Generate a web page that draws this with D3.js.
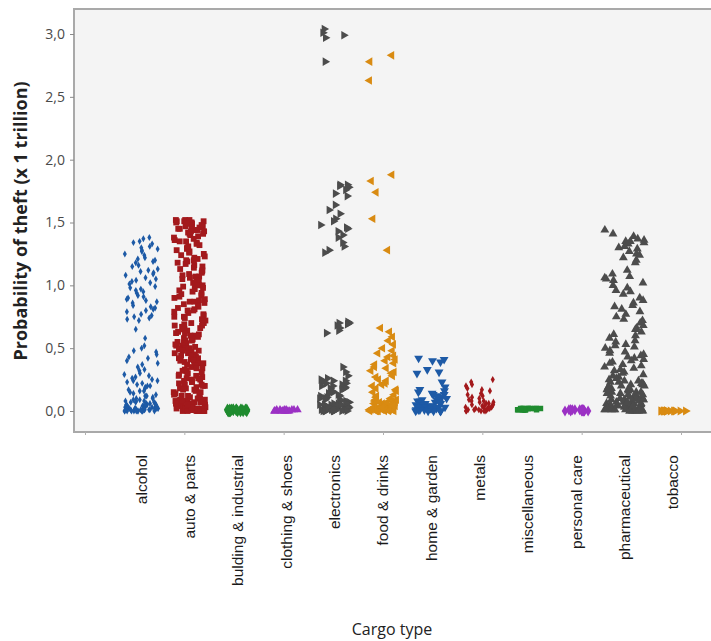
<!DOCTYPE html>
<html><head><meta charset="utf-8">
<script src="https://cdn.jsdelivr.net/npm/d3@7"></script>
<style>body{margin:0;background:#fff}svg{display:block}</style>
</head><body>
<svg id="c" width="711" height="641"></svg>
<script>
const categories = ["alcohol","auto & parts","bulding & industrial","clothing & shoes","electronics","food & drinks","home & garden","metals","miscellaneous","personal care","pharmaceutical","tobacco"];
const yTicks = [0,0.5,1,1.5,2,2.5,3];

const alcohol = [1.38,1.37,1.35,1.34,1.33,1.31,1.30,1.28,1.27,1.25,1.24,1.22,1.21,1.19,1.18,1.16,1.15,1.13,1.12,1.10,1.09,1.08,1.06,1.05,1.03,1.02,1.01,0.99,0.98,0.96,0.95,0.94,0.92,0.91,0.90,0.88,0.87,0.86,0.84,0.83,0.81,0.80,0.79,0.77,0.76,0.74,0.73,0.72,1.29,1.20,1.11,1.04,0.97,0.89,0.82,0.75,
0.65,0.58,0.52,0.50,0.48,0.47,0.45,0.43,0.42,0.40,0.38,0.37,0.35,0.33,0.32,0.30,
0.29,0.28,0.27,0.26,0.25,0.24,0.24,0.23,0.22,0.21,0.20,0.20,0.19,0.18,0.17,0.16,0.16,0.15,0.14,0.13,0.12,0.12,0.11,0.10,0.10,
0.09,0.09,0.08,0.08,0.08,0.07,0.07,0.06,0.06,0.06,0.05,0.05,0.05,0.04,0.04,0.04,0.04,0.03,0.03,0.03,0.03,0.02,0.02,0.02,0.02,0.02,0.01,0.01,0.01,0.01,0.01,0.01,0.00,0.00,0.00,0.00,0.00,0.00,0.00,0.00,0.00,0.00,
0.07,0.05,0.03,0.02,0.01,0.00,0.00,0.01,0.02,0.04];

const autoParts = [1.52,1.52,1.51,1.51,1.50,1.50,1.49,1.49,1.48,1.47,1.47,1.46,1.45,1.44,1.44,1.43,1.42,1.41,1.41,1.40,
1.52,1.51,1.50,1.49,1.48,1.46,1.45,1.43,
1.39,1.38,1.37,1.36,1.35,1.35,1.34,1.33,1.32,1.31,1.30,1.30,
1.29,1.28,1.27,1.26,1.25,1.24,1.23,1.22,1.21,1.20,1.20,
1.19,1.18,1.17,1.16,1.15,1.14,1.13,1.12,1.11,1.10,
1.09,1.08,1.07,1.07,1.06,1.05,1.04,1.03,1.02,1.01,1.00,1.00,
0.99,0.98,0.97,0.96,0.95,0.94,0.93,0.92,0.91,0.90,
0.89,0.88,0.87,0.87,0.86,0.85,0.84,0.83,0.82,0.81,0.80,0.80,
0.79,0.78,0.77,0.76,0.75,0.75,0.74,0.73,0.72,0.71,0.70,0.70,
0.69,0.68,0.68,0.67,0.66,0.65,0.65,0.64,0.63,0.62,0.62,0.61,0.60,0.60,
0.59,0.58,0.58,0.57,0.56,0.56,0.55,0.54,0.54,0.53,0.52,0.52,0.51,0.50,0.50,0.50,
0.49,0.48,0.48,0.47,0.46,0.46,0.45,0.44,0.44,0.43,0.42,0.42,0.41,0.40,0.40,
0.39,0.38,0.38,0.37,0.36,0.36,0.35,0.34,0.34,0.33,0.32,0.32,0.31,0.30,0.30,
0.29,0.28,0.28,0.27,0.26,0.26,0.25,0.25,0.24,0.23,0.23,0.22,0.21,0.21,0.20,0.20,
0.19,0.18,0.18,0.17,0.17,0.16,0.15,0.15,0.14,0.14,0.13,0.12,0.12,0.11,0.11,0.10,0.10,
0.09,0.09,0.08,0.08,0.08,0.07,0.07,0.06,0.06,0.06,0.05,0.05,0.05,0.04,0.04,0.04,0.03,0.03,0.03,0.03,0.02,0.02,0.02,0.02,0.01,0.01,0.01,0.01,0.00,0.00,0.00,0.00,0.00,0.00,
0.08,0.06,0.04,0.02,0.01,0.00,0.00,0.01,0.03,0.05];

const buildingIndustrial = [0.01,0.01,0.00,0.00,0.01,0.01,0.00,0.01,0.00,0.01,0.00,0.01,0.01,0.00,0.01,0.00,0.01,0.00,0.01,0.00];
const clothingShoes = [0.01,0.00,0.00,0.01,0.00,0.01,0.00,0.00,0.01,0.00,0.01,0.00,0.00,0.01,0.00,0.01,0.00,0.00];

const electronics = [3.04,3.01,2.99,2.97,2.78,
1.80,1.80,1.79,1.78,1.76,1.73,1.71,1.64,1.60,1.57,1.53,1.51,1.48,1.46,1.45,1.43,1.40,1.38,1.34,1.31,1.28,1.26,
0.71,0.70,0.70,0.69,0.68,0.66,0.64,0.62,
0.35,0.31,0.28,0.26,0.25,0.24,0.24,0.23,0.22,0.22,0.21,0.20,0.20,0.19,0.18,0.18,0.17,0.16,0.15,0.15,0.14,0.13,0.12,0.12,0.11,0.10,0.10,0.09,0.09,0.08,0.08,0.07,0.07,0.06,0.06,0.06,0.05,0.05,0.05,0.04,0.04,0.04,0.03,0.03,0.03,0.03,0.02,0.02,0.02,0.02,0.01,0.01,0.01,0.01,0.01,0.00,0.00,0.00,0.00,0.00,0.00,0.00,
0.08,0.06,0.04,0.02,0.01,0.00,0.00,0.01,0.03,0.05];

const foodDrinks = [2.83,2.78,2.63,
1.88,1.83,1.74,1.53,1.28,
0.66,0.63,0.59,0.56,0.53,0.50,0.48,0.46,0.44,0.43,0.41,0.40,0.38,0.37,0.35,0.34,0.32,0.31,0.30,0.28,0.27,0.25,0.24,0.22,0.21,0.20,0.18,0.17,0.16,0.15,0.13,0.12,0.11,0.10,
0.09,0.09,0.08,0.08,0.07,0.07,0.06,0.06,0.05,0.05,0.05,0.04,0.04,0.04,0.03,0.03,0.03,0.03,0.02,0.02,0.02,0.02,0.01,0.01,0.01,0.01,0.01,0.00,0.00,0.00,0.00,0.00,0.00,
0.07,0.05,0.03,0.02,0.01,0.00,0.00,0.01,0.02,0.04];

const homeGarden = [0.42,0.41,0.40,0.39,0.33,0.31,0.30,0.23,0.19,0.17,0.16,0.15,0.14,0.13,0.13,0.12,0.11,0.10,0.10,
0.09,0.09,0.08,0.08,0.07,0.07,0.06,0.06,0.06,0.05,0.05,0.05,0.04,0.04,0.04,0.03,0.03,0.03,0.03,0.02,0.02,0.02,0.02,0.01,0.01,0.01,0.01,0.00,0.00,0.00,0.00,0.00,0.00];

const metals = [0.25,0.23,0.21,0.20,0.18,0.17,0.16,0.14,0.13,0.12,0.11,0.10,0.09,0.08,0.08,0.07,0.07,0.06,0.06,0.05,0.05,0.04,0.04,0.04,0.03,0.03,0.03,0.02,0.02,0.02,0.02,0.01,0.01,0.01,0.01,0.00,0.00,0.00,0.00,0.00];

const miscellaneous = [0.02,0.01,0.02,0.01,0.02,0.01,0.02,0.01,0.01,0.02,0.01,0.02,0.01,0.02,0.01,0.02,0.01,0.02];
const personalCare = [0.01,0.00,0.01,0.00,0.01,0.00,0.01,0.01,0.00,0.01,0.00,0.01,0.00,0.01,0.00,0.01,0.00,0.01];

const pharmaceutical = [1.44,1.41,1.39,1.37,1.36,1.35,1.35,1.34,1.33,1.31,1.30,1.29,1.27,1.25,1.24,1.22,1.20,1.18,
1.12,1.09,1.07,1.06,1.05,1.04,1.02,1.00,0.98,0.96,0.95,0.93,
0.90,0.88,0.86,0.84,0.83,0.81,0.79,0.77,0.75,0.73,0.72,0.70,0.68,0.66,0.65,0.63,0.61,0.60,
0.58,0.56,0.55,0.53,0.52,0.51,0.50,0.48,0.47,0.46,0.45,0.44,0.43,0.42,0.41,0.40,0.39,0.38,0.37,0.36,0.35,0.34,0.33,0.32,0.31,0.30,0.29,0.28,0.27,0.26,
0.25,0.24,0.24,0.23,0.22,0.22,0.21,0.20,0.20,0.19,0.18,0.18,0.17,0.17,0.16,0.15,0.15,0.14,0.14,0.13,0.12,0.12,0.11,0.11,0.10,0.10,
0.09,0.09,0.09,0.08,0.08,0.08,0.07,0.07,0.07,0.06,0.06,0.06,0.05,0.05,0.05,0.05,0.04,0.04,0.04,0.04,0.03,0.03,0.03,0.03,0.03,0.02,0.02,0.02,0.02,0.02,0.01,0.01,0.01,0.01,0.01,0.01,0.00,0.00,0.00,0.00,0.00,0.00,0.00,0.00,
0.23,0.21,0.19,0.17,0.15,0.13,0.11,0.09,0.07,0.05,0.03,0.01,0.00,0.02,0.04];

const tobacco = [0.00,0.00,0.00,0.00,0.00,0.00,0.00,0.00,0.00,0.00,0.00,0.00,0.00,0.00,0.00,0.00];

const seriesValues = [alcohol, autoParts, buildingIndustrial, clothingShoes, electronics, foodDrinks, homeGarden, metals, miscellaneous, personalCare, pharmaceutical, tobacco];

// styles (not data)
const BLUE="#1d5aa6", RED="#a3191c", GREEN="#1f8b2f", PURPLE="#9b31c4", GRAY="#4c4c4c", ORANGE="#d98b12";
const styles = [
  {color:BLUE,   type:d3.symbolDiamond,  size:14, rot:0,   spread:17},
  {color:RED,    type:d3.symbolSquare,   size:34, rot:0,   spread:16},
  {color:GREEN,  type:d3.symbolDiamond,  size:44, rot:0,   spread:11},
  {color:PURPLE, type:d3.symbolTriangle, size:30, rot:0,   spread:12},
  {color:GRAY,   type:d3.symbolTriangle, size:32, rot:90,  spread:15},
  {color:ORANGE, type:d3.symbolTriangle, size:32, rot:-90, spread:14},
  {color:BLUE,   type:d3.symbolTriangle, size:34, rot:180, spread:16},
  {color:RED,    type:d3.symbolDiamond,  size:15, rot:0,   spread:14},
  {color:GREEN,  type:d3.symbolSquare,   size:30, rot:0,   spread:13},
  {color:PURPLE, type:d3.symbolDiamond,  size:36, rot:0,   spread:12},
  {color:GRAY,   type:d3.symbolTriangle, size:34, rot:0,   spread:20},
  {color:ORANGE, type:d3.symbolTriangle, size:34, rot:90,  spread:13}
];

const svg = d3.select("#c");
const plot = {left:74, top:9, right:712, bottom:432};

const x = d3.scaleBand().domain(categories).range([117, 697]);
const y = d3.scaleLinear().domain([-0.167, 3.199]).range([plot.bottom, plot.top]);

svg.append("rect").attr("x",plot.left).attr("y",plot.top)
  .attr("width",plot.right-plot.left).attr("height",plot.bottom-plot.top)
  .attr("fill","#f4f4f4").attr("stroke","#a9a9a9").attr("stroke-width",2);

const locale = d3.formatLocale({decimal:",", thousands:".", grouping:[3], currency:["",""]});
const fmt = locale.format(".1f");

const yAxis = svg.append("g").attr("transform",`translate(${plot.left},0)`)
  .call(d3.axisLeft(y).tickValues(yTicks).tickSize(4).tickPadding(5).tickFormat(fmt));
yAxis.select(".domain").remove();
yAxis.selectAll(".tick line").attr("stroke","#8a8a8a");
yAxis.selectAll(".tick text").attr("fill","#4a4a4a").style("font-family","'Open Sans', sans-serif").style("font-size","14px");

// faint minor ticks on the bottom edge
const xMinor = d3.scaleLinear().domain([0,6]).range([85,681]);
const xm = svg.append("g").attr("transform",`translate(0,${plot.bottom})`)
  .call(d3.axisBottom(xMinor).ticks(6).tickSize(3).tickFormat(""));
xm.select(".domain").remove();
xm.selectAll(".tick line").attr("stroke","#b0b0b0");

// jitter (layout only)
function jit(i, k){ const s = Math.sin((i+1)*12.9898 + (k+1)*78.233)*43758.5453; return (s - Math.floor(s))*2 - 1; }

const gPts = svg.append("g");
seriesValues.forEach((vals, k) => {
  const st = styles[k];
  const cx = x(categories[k]) + x.bandwidth()/2;
  const sym = d3.symbol().type(st.type).size(st.size)();
  gPts.append("g").selectAll("path").data(vals).join("path")
    .attr("d", sym)
    .attr("fill", st.color)
    .attr("transform", (d,i) => `translate(${(cx + jit(i,k)*st.spread).toFixed(2)},${y(d).toFixed(2)}) rotate(${st.rot})`);
});

// category labels
svg.append("g").selectAll("text").data(categories).join("text")
  .attr("transform", d => `translate(${x(d)+x.bandwidth()/2},455) rotate(-90)`)
  .attr("dy","0.35em").attr("text-anchor","end")
  .style("font-family","'Liberation Sans', Arial, sans-serif").style("font-size","15.5px").attr("fill","#1a1a1a")
  .text(d => d);

svg.append("text").attr("transform","translate(21,221) rotate(-90)")
  .attr("text-anchor","middle").attr("dy","0.35em")
  .style("font-family","'Open Sans', sans-serif").style("font-size","18px").style("font-weight","bold").attr("fill","#222")
  .text("Probability of theft (x 1 trillion)");

svg.append("text").attr("x",392).attr("y",629).attr("text-anchor","middle").attr("dy","0.35em")
  .style("font-family","'Open Sans', sans-serif").style("font-size","16px").attr("fill","#222")
  .text("Cargo type");
</script>
</body></html>
